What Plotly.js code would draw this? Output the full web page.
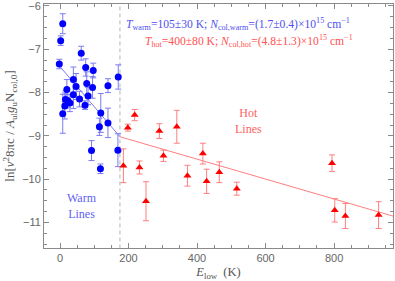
<!DOCTYPE html>
<html>
<head>
<meta charset="utf-8">
<script src="https://cdn.plot.ly/plotly-3.0.1.min.js"></script>
<style>html,body{margin:0;padding:0;background:#fff;}#chart{width:395px;height:281px;}</style>
</head>
<body>
<div id="chart"></div>
<script>
// Warm lines (blue circles)
const warmE   = [-2, 2, 8, 8, 14, 16, 20, 23, 29, 39, 39, 47, 57, 62, 73, 75, 78, 82, 95, 97, 119, 115, 140, 140, 170, 92, 118, 169];
const warmV   = [-7.34, -6.80, -6.41, -8.49, -8.31, -8.16, -7.93, -8.19, -8.24, -7.70, -8.05, -7.86, -8.15, -7.09, -8.29, -7.42, -7.79, -8.08, -7.88, -7.49, -8.47, -8.79, -7.84, -8.70, -7.64, -9.34, -9.76, -9.33];
const warmErr = [0.11, 0.11, 0.23, 0.45, 0.30, 0.20, 0.23, 0.15, 0.20, 0.29, 0.32, 0.30, 0.18, 0.16, 0.10, 0.20, 0.27, 0.20, 0.25, 0.17, 0.45, 0.20, 0.16, 0.34, 0.28, 0.23, 0.11, 0.38];
// Hot lines (red triangles)
const hotE   = [185, 198, 218, 232, 251, 290, 302, 341, 372, 417, 428, 465, 516, 794, 802, 833, 930];
const hotV   = [-9.69, -8.81, -8.52, -9.73, -10.51, -8.89, -9.46, -8.79, -9.92, -9.41, -10.05, -9.84, -10.22, -9.63, -10.72, -10.85, -10.83];
const hotErr = [0.39, 0.08, 0.13, 0.15, 0.45, 0.17, 0.13, 0.38, 0.24, 0.24, 0.28, 0.24, 0.15, 0.19, 0.27, 0.29, 0.31];
// Fits
const warmFitE = [0, 175];
const warmFitV = [-7.40, -9.02];
const hotFitE  = [175, 975];
const hotFitV  = [-9.02, -10.86];
// Separator
const sepE = [175, 175];
const sepV = [-11.6, -5.95];

const blue = '#0000ff', blueLight = '#7b7bf2';
const red = '#ff0000', redLight = '#ff7f7f';
const serif = 'Liberation Serif, Times New Roman, serif';

const traces = [
  {x: sepE, y: sepV, mode: 'lines', line: {color: '#b4b4b4', width: 1, dash: '4px,3px'}, hoverinfo: 'skip'},
  {x: warmFitE, y: warmFitV, mode: 'lines', line: {color: blueLight, width: 1}},
  {x: hotFitE, y: hotFitV, mode: 'lines', line: {color: redLight, width: 1}},
  {x: warmE, y: warmV, mode: 'markers', type: 'scatter',
   marker: {symbol: 'circle', size: 7, color: blue},
   error_y: {type: 'data', array: warmErr, visible: true, color: blueLight, thickness: 1, width: 3}},
  {x: hotE, y: hotV, mode: 'markers', type: 'scatter',
   marker: {symbol: 'triangle-up', size: 7, color: red},
   error_y: {type: 'data', array: hotErr, visible: true, color: redLight, thickness: 1, width: 3}}
];

const axisCommon = {
  showgrid: false, zeroline: false, showline: true, mirror: 'allticks',
  linecolor: '#8a8a8a', linewidth: 1, ticks: 'inside', tickcolor: '#8a8a8a',
  ticklen: 5, ticklabeloverflow: 'allow',
  tickfont: {family: 'Liberation Sans, Arial, sans-serif', size: 11, color: '#666'}
};

const layout = {
  width: 395, height: 281,
  margin: {l: 44, r: 2, t: 4, b: 33},
  paper_bgcolor: '#fff', plot_bgcolor: '#fff',
  showlegend: false,
  xaxis: Object.assign({}, axisCommon, {
    range: [-46.7, 972], tickvals: [0, 200, 400, 600, 800], ticktext: ['0','200','400','600','800'],
    minor: {dtick: 50, tick0: 0, ticks: 'inside', ticklen: 3, tickcolor: '#8a8a8a'},
    title: {text: '<i>E</i><sub>low</sub>  (K)', font: {family: serif, size: 12.5, color: '#555'}, standoff: 5}
  }),
  yaxis: Object.assign({}, axisCommon, {
    range: [-11.59, -5.954], dtick: 1, tick0: -6,
    minor: {dtick: 0.25, ticks: 'inside', ticklen: 3, tickcolor: '#8a8a8a'},
    title: {text: 'ln[<i>ν</i><sup>2</sup>8πc / <i>A</i><sub>ul</sub><i>g</i><sub>u</sub>N<sub>col,0</sub>]', font: {family: serif, size: 13, color: '#555'}, standoff: 4}
  }),
  annotations: [
    {x: 188, y: -6.41, xref: 'x', yref: 'y', xanchor: 'left', yanchor: 'middle', showarrow: false,
     text: '<i>T</i><sub>warm</sub>=105±30 K; <i>N</i><sub>col,warm</sub>=(1.7±0.4)×10<sup>15</sup> cm<sup>−1</sup>',
     font: {family: serif, size: 11.6, color: '#4f4ff0'}},
    {x: 243, y: -6.80, xref: 'x', yref: 'y', xanchor: 'left', yanchor: 'middle', showarrow: false,
     text: '<i>T</i><sub>hot</sub>=400±80 K; <i>N</i><sub>col,hot</sub>=(4.8±1.3)×10<sup>15</sup> cm<sup>−1</sup>',
     font: {family: serif, size: 11.6, color: '#ff5252'}},
    {x: 549, y: -8.65, xref: 'x', yref: 'y', xanchor: 'center', yanchor: 'middle', showarrow: false,
     text: 'Hot<br>Lines', font: {family: serif, size: 12, color: '#ff5f5f'}},
    {x: 64, y: -10.63, xref: 'x', yref: 'y', xanchor: 'center', yanchor: 'middle', showarrow: false,
     text: 'Warm<br>Lines', font: {family: serif, size: 12, color: '#5f5ff5'}}
  ]
};

Plotly.newPlot('chart', traces, layout, {displayModeBar: false, staticPlot: true});
</script>
</body>
</html>
